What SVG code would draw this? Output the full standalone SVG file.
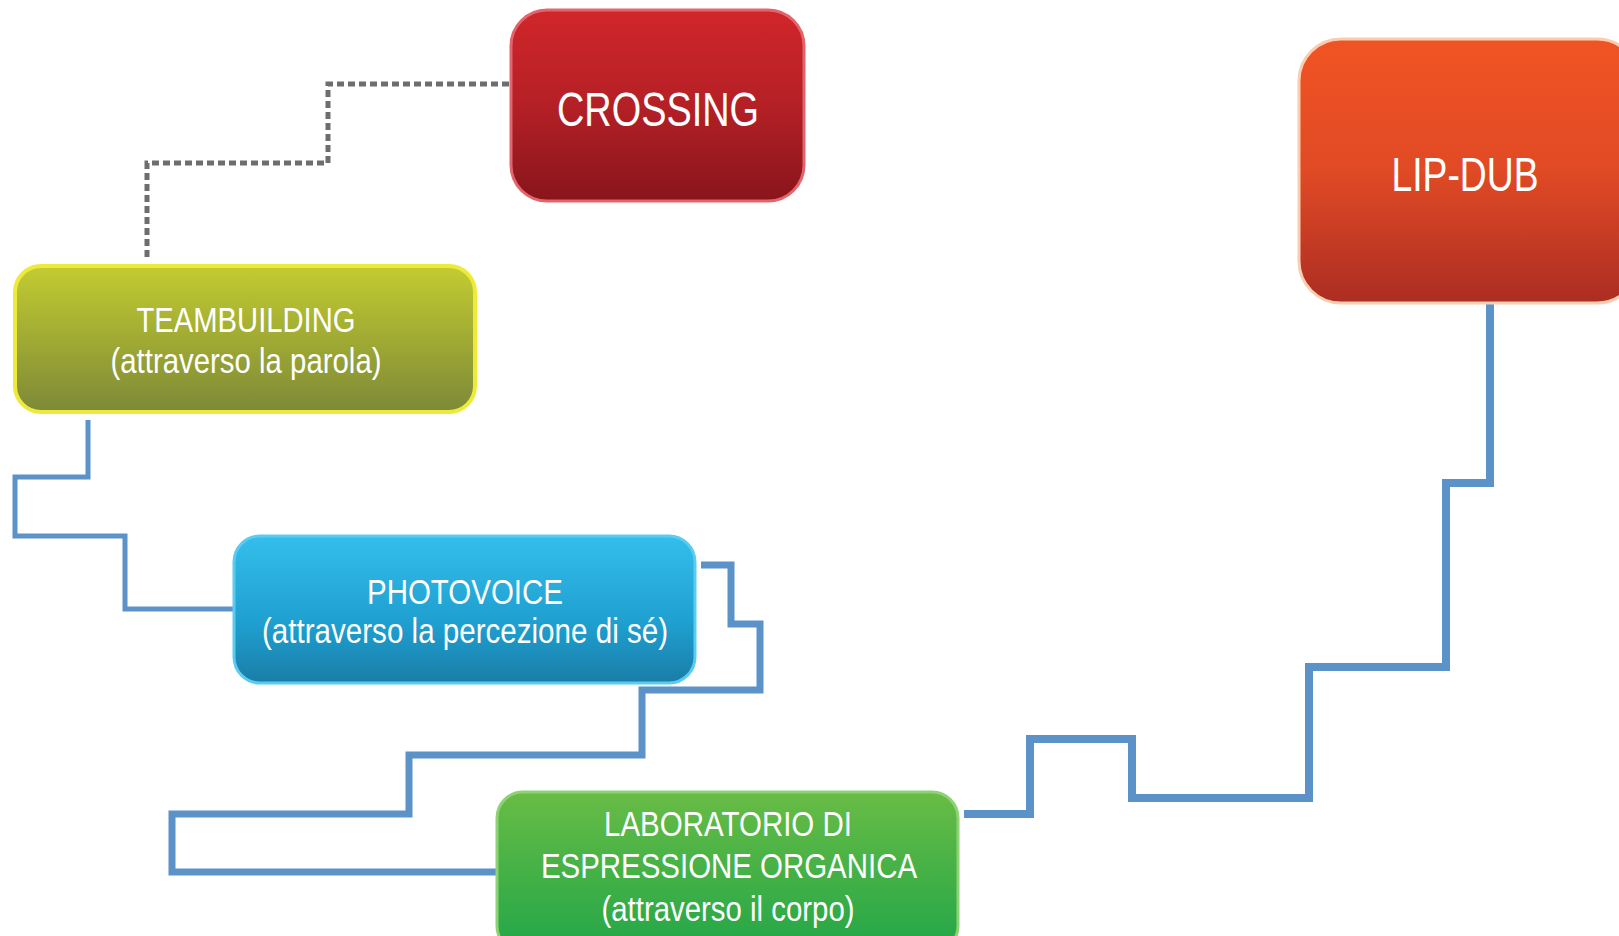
<svg xmlns="http://www.w3.org/2000/svg" width="1619" height="936" viewBox="0 0 1619 936">
<style>
.lbl{font-family:"Liberation Sans Narrow","Liberation Sans",Arial,sans-serif;fill:#fff;text-anchor:middle}
.big{font-size:48px}
.mid{font-size:35px}
.conn{fill:none;stroke:#5B92C8;stroke-linejoin:miter}
.dash{fill:none;stroke:#6E6E6E;stroke-width:5;stroke-dasharray:7 4}
</style>
<defs>
<linearGradient id="gRed" x1="0" y1="0" x2="0" y2="1"><stop offset="0" stop-color="#D1262A"/><stop offset="0.5" stop-color="#B42026"/><stop offset="1" stop-color="#88151A"/></linearGradient>
<linearGradient id="gOrange" x1="0" y1="0" x2="0" y2="1"><stop offset="0" stop-color="#F15423"/><stop offset="0.5" stop-color="#E04A25"/><stop offset="1" stop-color="#AC2D22"/></linearGradient>
<linearGradient id="gOlive" x1="0" y1="0" x2="0" y2="1"><stop offset="0" stop-color="#C3CC30"/><stop offset="1" stop-color="#7D8937"/></linearGradient>
<linearGradient id="gBlue" x1="0" y1="0" x2="0" y2="1"><stop offset="0" stop-color="#34BEEC"/><stop offset="0.6" stop-color="#1E9FD0"/><stop offset="1" stop-color="#1A7DA6"/></linearGradient>
<linearGradient id="gGreen" x1="0" y1="0" x2="0" y2="1"><stop offset="0" stop-color="#68BC45"/><stop offset="1" stop-color="#22A648"/></linearGradient>
</defs>

<g id="connectors">
<path class="dash" d="M509,84 H328 V163 H147 V258"/>
<path class="conn" stroke-width="5" d="M88,420 V477 H15 V536 H125 V609 H233"/>
<path class="conn" stroke-width="7" d="M701,565 H731 V624 H760 V690 H642 V755 H409 V814 H172 V872 H497"/>
<path class="conn" stroke-width="8" d="M964,814 H1030 V739 H1132 V798 H1309 V667 H1446 V483 H1490 V303"/>
</g>

<g id="crossing">
<rect x="511" y="10" width="293" height="191" rx="36" fill="url(#gRed)" stroke="#E2646C" stroke-width="3"/>
<text class="lbl big" x="658" y="126" textLength="202" lengthAdjust="spacingAndGlyphs">CROSSING</text>
</g>

<g id="lipdub">
<rect x="1299" y="39" width="340" height="264" rx="42" fill="url(#gOrange)" stroke="#F9CDB0" stroke-width="3"/>
<text class="lbl big" x="1465" y="191" textLength="147" lengthAdjust="spacingAndGlyphs">LIP-DUB</text>
</g>

<g id="teambuilding">
<rect x="15" y="266" width="460" height="146" rx="26" fill="url(#gOlive)" stroke="#EEEA3C" stroke-width="4"/>
<text class="lbl mid" x="246" y="332" textLength="219" lengthAdjust="spacingAndGlyphs">TEAMBUILDING</text>
<text class="lbl mid" x="246" y="373" textLength="271" lengthAdjust="spacingAndGlyphs">(attraverso la parola)</text>
</g>

<g id="photovoice">
<rect x="234" y="536" width="461" height="147" rx="26" fill="url(#gBlue)" stroke="#5ACBF1" stroke-width="3"/>
<text class="lbl mid" x="465" y="604" textLength="196" lengthAdjust="spacingAndGlyphs">PHOTOVOICE</text>
<text class="lbl mid" x="465" y="643" textLength="406" lengthAdjust="spacingAndGlyphs">(attraverso la percezione di sé)</text>
</g>

<g id="laboratorio">
<rect x="497" y="792" width="461" height="160" rx="26" fill="url(#gGreen)" stroke="#8DD275" stroke-width="3"/>
<text class="lbl mid" x="728" y="836" textLength="248" lengthAdjust="spacingAndGlyphs">LABORATORIO DI</text>
<text class="lbl mid" x="729" y="878" textLength="376" lengthAdjust="spacingAndGlyphs">ESPRESSIONE ORGANICA</text>
<text class="lbl mid" x="728" y="921" textLength="253" lengthAdjust="spacingAndGlyphs">(attraverso il corpo)</text>
</g>
</svg>
